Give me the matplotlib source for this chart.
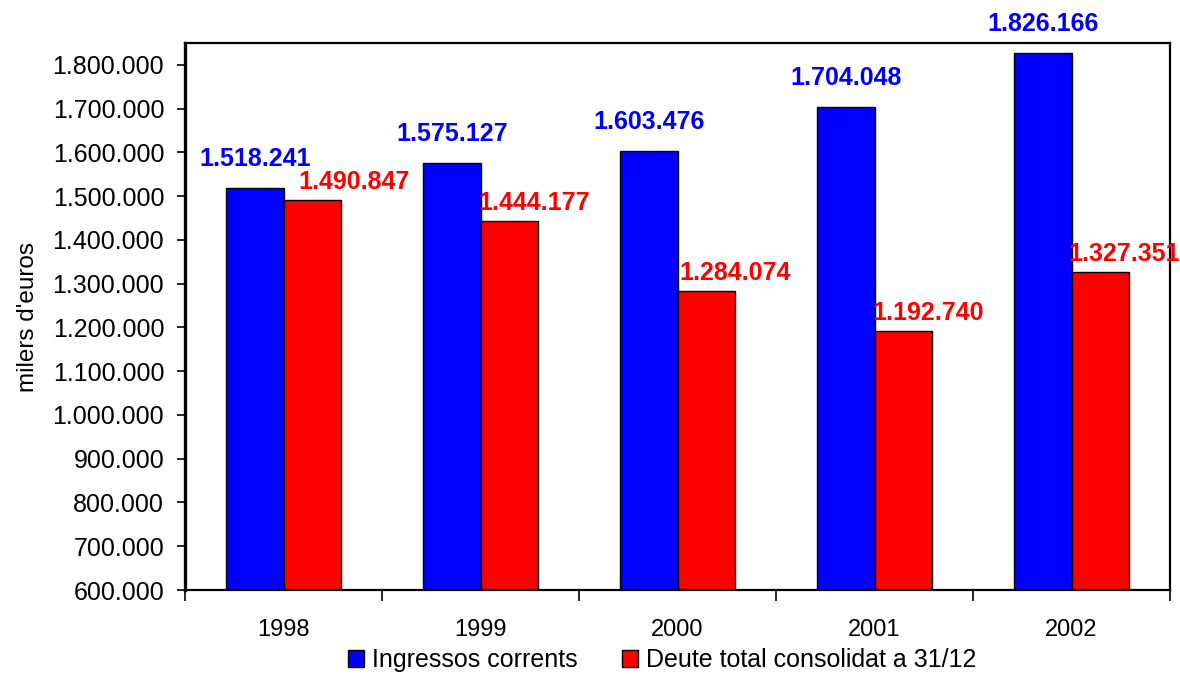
import numpy as np
import matplotlib
matplotlib.use("Agg")
import matplotlib.pyplot as plt
from matplotlib.patches import Rectangle
from matplotlib.ticker import FuncFormatter

plt.rcParams['font.family'] = ['Liberation Sans', 'DejaVu Sans']

# ================= dades =================
anys = ['1998', '1999', '2000', '2001', '2002']
ingressos = [1518241, 1575127, 1603476, 1704048, 1826166]
deute = [1490847, 1444177, 1284074, 1192740, 1327351]
nom_ingressos = 'Ingressos corrents'
nom_deute = 'Deute total consolidat a 31/12'

blau = '#0000FF'
vermell = '#FF0000'


def punts(v):
    # format amb punt com a separador de milers
    return f"{int(v):,}".replace(',', '.')


fig = plt.figure(figsize=(11.8, 6.74), dpi=100)
ax = fig.add_axes([185 / 1180, 84 / 674, 985 / 1180, 547 / 674])

x = np.arange(len(anys))
w = 0.29
ax.bar(x - w / 2, ingressos, w, color=blau, edgecolor='black', linewidth=1)
ax.bar(x + w / 2, deute, w, color=vermell, edgecolor='black', linewidth=1)

# etiquetes de valor
despl_vermell = [30, 18, 21, 18, 17]  # desplaçament horitzontal (pt)
for i in range(len(anys)):
    ax.annotate(punts(ingressos[i]), (x[i] - w / 2, ingressos[i]),
                xytext=(0, 21), textcoords='offset points',
                ha='center', va='center', color=blau,
                fontsize=18, fontweight='bold', annotation_clip=False)
    ax.annotate(punts(deute[i]), (x[i] + w / 2, deute[i]),
                xytext=(despl_vermell[i], 13), textcoords='offset points',
                ha='center', va='center', color=vermell,
                fontsize=18, fontweight='bold', annotation_clip=False)

ax.set_xlim(-0.5, len(anys) - 0.5)
ax.set_ylim(600000, 1850000)
ax.set_yticks(np.arange(600000, 1800001, 100000))
ax.yaxis.set_major_formatter(FuncFormatter(lambda v, p: punts(v)))
ax.tick_params(axis='y', direction='out', length=6, width=1.2,
               labelsize=18, pad=9)

ax.set_xticks(np.arange(-0.5, len(anys), 1.0))
ax.set_xticklabels([])
ax.set_xticks(x, minor=True)
ax.set_xticklabels(anys, minor=True)
ax.tick_params(axis='x', which='major', direction='out', length=8, width=1.2)
ax.tick_params(axis='x', which='minor', length=0, labelsize=17, pad=21)

for s in ax.spines.values():
    s.set_linewidth(1.6)
ax.spines['left'].set_linewidth(2.4)

ax.set_ylabel("milers d'euros", fontsize=17.5, labelpad=10)

handles = [Rectangle((0, 0), 1, 1, facecolor=blau, edgecolor='black', linewidth=1),
           Rectangle((0, 0), 1, 1, facecolor=vermell, edgecolor='black', linewidth=1)]
fig.legend(handles, [nom_ingressos, nom_deute], loc='center',
           bbox_to_anchor=(662 / 1180, 1 - 660 / 674), ncol=2, frameon=False,
           fontsize=18, handlelength=0.65, handleheight=0.65,
           handletextpad=0.3, columnspacing=1.8, borderpad=0)

fig.savefig('out.png', dpi=100)
